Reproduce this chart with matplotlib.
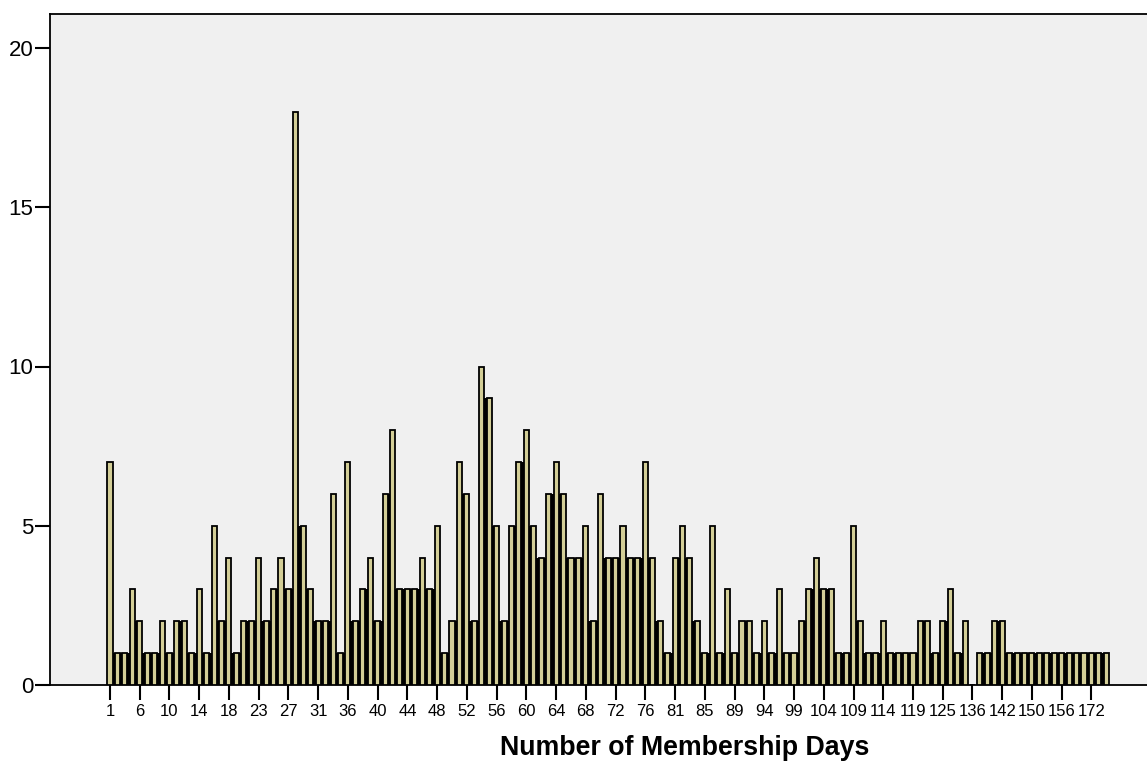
import numpy as np
import matplotlib
matplotlib.use("Agg")
import matplotlib.pyplot as plt

plt.rcParams['font.family'] = ['Liberation Sans', 'DejaVu Sans']

# Category values (days); every 4th one is labelled on the axis
days = [1, 2, 4, 5, 6, 7, 8, 9, 10, 11, 12, 13, 14, 15, 16, 17, 18, 19, 20, 22,
        23, 24, 25, 26, 27, 28, 29, 30, 31, 32, 33, 35, 36, 37, 38, 39, 40, 41, 42, 43,
        44, 45, 46, 47, 48, 49, 50, 51, 52, 53, 54, 55, 56, 57, 58, 59, 60, 61, 62, 63,
        64, 65, 66, 67, 68, 69, 70, 71, 72, 73, 74, 75, 76, 77, 78, 80, 81, 82, 83, 84,
        85, 86, 87, 88, 89, 90, 91, 93, 94, 95, 97, 98, 99, 100, 101, 103, 104, 105, 106, 108,
        109, 110, 112, 113, 114, 115, 116, 118, 119, 120, 122, 123, 125, 127, 130, 133, 136, 138, 139, 141,
        142, 144, 146, 148, 150, 152, 153, 155, 156, 160, 165, 168, 172, 175, 180]

counts = [7, 1, 1, 3, 2, 1, 1, 2, 1, 2, 2, 1, 3, 1, 5, 2, 4, 1, 2, 2,
          4, 2, 3, 4, 3, 18, 5, 3, 2, 2, 6, 1, 7, 2, 3, 4, 2, 6, 8, 3,
          3, 3, 4, 3, 5, 1, 2, 7, 6, 2, 10, 9, 5, 2, 5, 7, 8, 5, 4, 6,
          7, 6, 4, 4, 5, 2, 6, 4, 4, 5, 4, 4, 7, 4, 2, 1, 4, 5, 4, 2,
          1, 5, 1, 3, 1, 2, 2, 1, 2, 1, 3, 1, 1, 2, 3, 4, 3, 3, 1, 1,
          5, 2, 1, 1, 2, 1, 1, 1, 1, 2, 2, 1, 2, 3, 1, 2, 0, 1, 1, 2,
          2, 1, 1, 1, 1, 1, 1, 1, 1, 1, 1, 1, 1, 1, 1]

y_ticks = [0, 5, 10, 15, 20]
x_title = "Number of Membership Days"

W, H = 1147, 761
fig = plt.figure(figsize=(W / 100, H / 100), dpi=100)
fig.patch.set_facecolor('white')

left_px, right_px, top_px, bottom_px = 50, 1147, 13.5, 685
ax = fig.add_axes([left_px / W, (H - bottom_px) / H,
                   (right_px - left_px) / W, (bottom_px - top_px) / H])
ax.set_facecolor('#F0F0F0')

x = np.arange(len(days))
vals = np.array(counts)

# dark fill between adjacent bars (as in the original rendering)
ax.bar(x[:-1] + 0.5, np.minimum(vals[:-1], vals[1:]), width=0.35,
       color='black', linewidth=0, zorder=2)
ax.bar(x, vals, width=0.68, color='#D3CE97', edgecolor='black',
       linewidth=1.3, zorder=3)

spacing = 7.435
ax.set_xlim(-(110 - left_px) / spacing, (len(days) - 1) + (right_px - 1106.3) / spacing)
ymax = 20 * (bottom_px - top_px) / (bottom_px - 48)
ax.set_ylim(0, ymax)

ax.set_xticks(x[::4])
ax.set_xticklabels([str(d) for d in days[::4]], fontsize=12)
ax.set_yticks(y_ticks)
ax.set_yticklabels([str(v) for v in y_ticks], fontsize=16)

ax.tick_params(axis='y', direction='out', length=10.5, width=1.5, pad=1.5, colors='black')
ax.tick_params(axis='x', direction='out', length=10.5, width=1.5, pad=3.5, colors='black')

for s in ['left', 'top', 'bottom']:
    ax.spines[s].set_linewidth(1.3)
    ax.spines[s].set_color('black')
ax.spines['right'].set_visible(False)

ax.set_xlabel(x_title, fontsize=19.3, fontweight='bold')
ax.xaxis.set_label_coords((684.5 - left_px) / (right_px - left_px), -0.074)

fig.savefig('out.png', dpi=100, facecolor='white')
